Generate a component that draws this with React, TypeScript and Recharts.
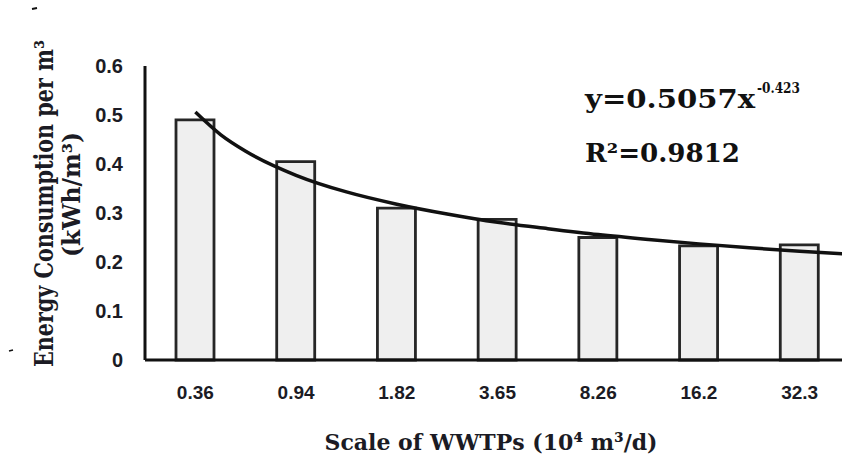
import React from "react";
import { ComposedChart, Bar, Line, XAxis, YAxis } from "recharts";

// plant scale (10^4 m3/d) and energy use per m3 (kWh/m3)
const scales = ["0.36", "0.94", "1.82", "3.65", "8.26", "16.2", "32.3"];
const energy = [0.49, 0.405, 0.31, 0.287, 0.25, 0.233, 0.235];
const yTicks = [0, 0.1, 0.2, 0.3, 0.4, 0.5, 0.6];

// power fit curve at category positions
const fitX = [1, 1.25, 1.5, 2, 2.5, 3, 3.5, 4, 4.5, 5, 5.5, 6, 6.5, 7, 7.5];
const fitY = [0.506, 0.46, 0.426, 0.377, 0.343, 0.318, 0.298, 0.281, 0.268, 0.256, 0.246, 0.237, 0.229, 0.222, 0.216];

const data = scales.map((s, i) => ({ scale: s, energy: energy[i] }));
const fit = fitX.map((x, i) => ({ x, y: fitY[i] }));

const serif = "'DejaVu Serif', serif";
const sans = "'Liberation Sans', Arial, sans-serif";
const ink = "#1b1b24";

function XTick({ x, y, payload }: any) {
  return (
    <text x={x} y={y + 39} textAnchor="middle" fontFamily={sans} fontWeight="bold" fontSize={19} fill={ink}>
      {payload.value}
    </text>
  );
}

function YTick({ x, y, payload }: any) {
  return (
    <text x={x - 22} y={y + 7} textAnchor="end" fontFamily={sans} fontWeight="bold" fontSize={20} fill={ink}>
      {payload.value === 0 ? "0" : payload.value.toFixed(1)}
    </text>
  );
}

export default function App() {
  return (
    <div style={{ position: "absolute", left: 0, top: 0, width: 842, height: 459, overflow: "hidden", background: "#fff" }}>
      <ComposedChart width={870} height={459} data={data} margin={{ top: 66, right: 20, bottom: 69, left: 85 }}>
        <XAxis
          dataKey="scale"
          height={30}
          tickSize={0}
          tickMargin={0}
          tickLine={false}
          axisLine={{ stroke: "#111", strokeWidth: 3 }}
          tick={<XTick />}
          interval={0}
        />
        <XAxis xAxisId="fit" type="number" dataKey="x" domain={[0.5, 7.5]} allowDataOverflow hide />
        <YAxis
          width={60}
          domain={[0, 0.6]}
          ticks={yTicks}
          tickSize={0}
          tickMargin={0}
          tickLine={false}
          axisLine={{ stroke: "#111", strokeWidth: 3 }}
          tick={<YTick />}
        />
        <Bar dataKey="energy" barSize={38} fill="#efefef" stroke="#262626" strokeWidth={2.8} isAnimationActive={false} />
        <Line
          xAxisId="fit"
          data={fit}
          dataKey="y"
          type="monotone"
          stroke="#111"
          strokeWidth={3.5}
          dot={false}
          activeDot={false}
          isAnimationActive={false}
        />
      </ComposedChart>
      <svg width={842} height={459} style={{ position: "absolute", left: 0, top: 0, pointerEvents: "none" }}>
        <text
          transform="translate(53,203.5) rotate(-90)"
          textAnchor="middle"
          fontFamily={serif}
          fontWeight="bold"
          fontSize={26}
          fill={ink}
          textLength={327}
          lengthAdjust="spacingAndGlyphs"
        >
          Energy Consumption per m³
        </text>
        <text
          transform="translate(80,194.5) rotate(-90)"
          textAnchor="middle"
          fontFamily={serif}
          fontWeight="bold"
          fontSize={24}
          fill={ink}
          textLength={125}
          lengthAdjust="spacingAndGlyphs"
        >
          (kWh/m³)
        </text>
        <text
          x={491}
          y={450}
          textAnchor="middle"
          fontFamily={serif}
          fontWeight="bold"
          fontSize={23}
          fill={ink}
          textLength={333}
          lengthAdjust="spacingAndGlyphs"
        >
          Scale of WWTPs (10⁴ m³/d)
        </text>
        <text x={585} y={108} fontFamily={serif} fontWeight="bold" fontSize={26} fill="#111" textLength={170} lengthAdjust="spacingAndGlyphs">
          y=0.5057x
        </text>
        <text x={757} y={93} fontFamily={serif} fontWeight="bold" fontSize={14} fill="#111" textLength={43} lengthAdjust="spacingAndGlyphs">
          -0.423
        </text>
        <text x={585} y={162} fontFamily={serif} fontWeight="bold" fontSize={26} fill="#111" textLength={155} lengthAdjust="spacingAndGlyphs">
          R²=0.9812
        </text>
        <line x1={32} y1={9} x2={37} y2={8} stroke="#111" strokeWidth={2} />
        <line x1={9} y1={351} x2={13} y2={350} stroke="#111" strokeWidth={1.5} />
      </svg>
    </div>
  );
}
